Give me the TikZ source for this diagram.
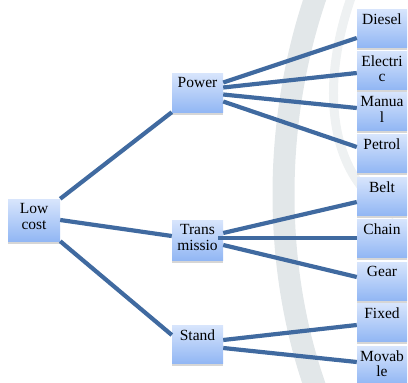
\documentclass[tikz,border=0pt]{standalone}
\usepackage{fontspec}
\setmainfont{Liberation Serif}
\usetikzlibrary{shadows}
\definecolor{linkc}{RGB}{64,106,160}
\definecolor{boxtop}{RGB}{216,229,252}
\definecolor{boxbot}{RGB}{146,183,244}
\definecolor{wmark}{RGB}{226,231,233}
\newcommand{\bxt}[3]{\parbox[c][#2][t]{#1}{\centering\vspace*{4.5pt}\fontsize{15.5}{15.5}\selectfont #3\par}}
\tikzset{
  box/.style={rectangle, inner sep=0pt, top color=boxtop, bottom color=boxbot,
    drop shadow={shadow xshift=0pt, shadow yshift=-3pt, fill=black!16, opacity=1}},
  link/.style={draw=linkc, line width=4.2pt},
  wm/.style={draw=wmark, line width=22pt}
}
\begin{document}
\begin{tikzpicture}[x=1pt,y=-1pt]
\useasboundingbox (0,0) rectangle (408,383);
% watermark
\draw[wm] (318,-10) .. controls (272,120) and (272,270) .. (318,395);
\draw[wmark, line width=9pt, opacity=0.6] (352,-5) .. controls (318,90) and (330,180) .. (395,215);
% nodes
\node[box] (low) at (34,220) {\bxt{52pt}{42pt}{Low\\cost}};
\node[box] (power) at (197.5,92.5) {\bxt{51pt}{39pt}{Power}};
\node[box] (trans) at (197.5,240) {\bxt{51pt}{40pt}{Trans\\missio}};
\node[box] (stand) at (197.5,344) {\bxt{51pt}{38pt}{Stand}};
\node[box] (diesel) at (382,28) {\bxt{50pt}{38pt}{Diesel}};
\node[box] (electric) at (382,70) {\bxt{50pt}{38pt}{Electri\\c}};
\node[box] (manual) at (382,111) {\bxt{50pt}{38pt}{Manua\\l}};
\node[box] (petrol) at (382,153) {\bxt{50pt}{38pt}{Petrol}};
\node[box] (belt) at (382,196) {\bxt{50pt}{38pt}{Belt}};
\node[box] (chain) at (382,238) {\bxt{50pt}{38pt}{Chain}};
\node[box] (gear) at (382,281) {\bxt{50pt}{38pt}{Gear}};
\node[box] (fixed) at (382,322) {\bxt{50pt}{38pt}{Fixed}};
\node[box] (movable) at (382,365) {\bxt{50pt}{38pt}{Movab\\le}};
% connectors
\draw[link] (low.north east) -- (power.south west);
\draw[link] (low.east) -- ([yshift=4pt]trans.west);
\draw[link] (low.south east) -- ([yshift=9pt]stand.west);
\draw[link] ([yshift=10pt]power.east) -- ([yshift=-10pt]diesel.west);
\draw[link] ([yshift=5pt]power.east) -- ([yshift=-3pt]electric.west);
\draw[link] ([yshift=-2pt]power.east) -- ([yshift=3pt]manual.west);
\draw[link] ([yshift=-9pt]power.east) -- ([yshift=6pt]petrol.west);
\draw[link] ([yshift=7pt]trans.east) -- ([yshift=-6pt]belt.west);
\draw[link] ([xshift=-5pt,yshift=2pt]trans.east) -- (chain.west);
\draw[link] ([yshift=-5pt]trans.east) -- ([yshift=4pt]gear.west);
\draw[link] ([yshift=4pt]stand.east) -- ([yshift=-3pt]fixed.west);
\draw[link] ([yshift=-4pt]stand.east) -- ([yshift=3pt]movable.west);
\end{tikzpicture}
\end{document}
